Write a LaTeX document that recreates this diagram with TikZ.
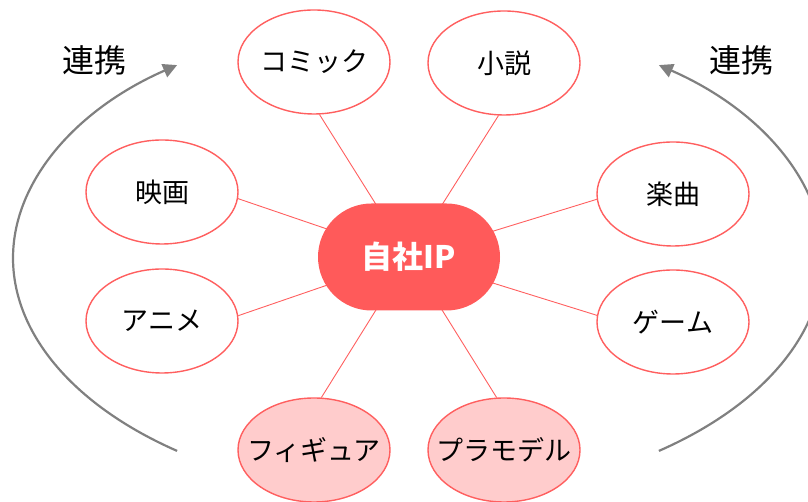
\documentclass[tikz,border=0pt]{standalone}
\usepackage{fontspec}
\setmainfont{Noto Sans CJK JP}
\usetikzlibrary{shapes.geometric,arrows.meta,backgrounds,calc}
\definecolor{ipred}{HTML}{FF5A5A}
\definecolor{edgered}{HTML}{FF5F5F}
\definecolor{pinkfill}{HTML}{FFCCCC}
\definecolor{arrgray}{HTML}{808080}
\tikzset{
  media/.style={ellipse, draw=edgered, line width=1.4pt, fill=white, minimum width=152pt, minimum height=104pt, inner xsep=-20pt, inner ysep=0pt, font=\fontsize{27}{30}\selectfont},
  goods/.style={media, fill=pinkfill},
  hub/.style={rectangle, rounded corners=53.5pt, fill=ipred, minimum width=182pt, minimum height=107pt, inner sep=0pt, text=white, font=\fontsize{31}{34}\selectfont\bfseries},
  conn/.style={draw=edgered, line width=0.9pt},
  linkarrow/.style={draw=arrgray, line width=2.2pt, -{Triangle[length=14pt, width=14pt]}},
  linklabel/.style={font=\fontsize{32}{36}\selectfont, inner sep=0pt}
}
\begin{document}
\begin{tikzpicture}[x=1pt,y=1pt]
\useasboundingbox (0,0) rectangle (808,502);
\clip (0,0) rectangle (808,502);
\node[hub] (ip) at (409,245) {自社IP};
\node[media] (komik) at (314,440) {コミック};
\node[media] (shosetsu) at (504,439) {小説};
\node[media] (eiga) at (162,310) {映画};
\node[media] (gakkyoku) at (673,308) {楽曲};
\node[media] (anime) at (162,181) {アニメ};
\node[media] (game) at (673,180) {ゲーム};
\node[goods] (figure) at (314,52) {フィギュア};
\node[goods] (pramo) at (504,52) {プラモデル};
\begin{pgfonlayer}{background}
\draw[conn] (komik.-84) -- (ip.center);
\draw[conn] (shosetsu.-96) -- (ip.center);
\draw[conn] (eiga.-5) -- (ip.center);
\draw[conn] (gakkyoku.184) -- (ip.center);
\draw[conn] (anime.4) -- (ip.center);
\draw[conn] (game.175) -- (ip.center);
\draw[conn] (figure.82) -- (ip.center);
\draw[conn] (pramo.98) -- (ip.center);
\end{pgfonlayer}
\coordinate (ringc) at (418,244);
\draw[linkarrow] ($(ringc)+(233.5:405pt and 240pt)$) arc[start angle=233.5, end angle=126.5, x radius=405pt, y radius=240pt];
\draw[linkarrow] ($(ringc)+(-53.5:405pt and 240pt)$) arc[start angle=-53.5, end angle=53.5, x radius=405pt, y radius=240pt];
\node[linklabel] (renkeiL) at (94,442) {連携};
\node[linklabel] (renkeiR) at (741,442) {連携};
\end{tikzpicture}
\end{document}
